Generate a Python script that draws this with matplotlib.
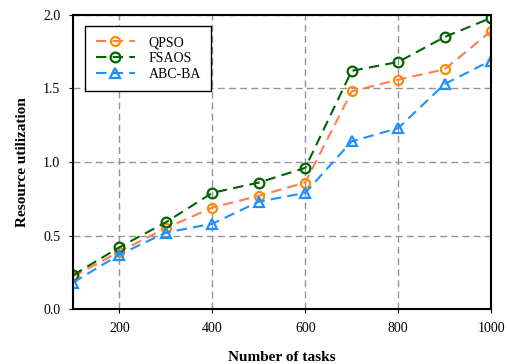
import matplotlib.pyplot as plt
import numpy as np

plt.rcParams['font.family'] = ['Liberation Serif', 'DejaVu Serif']

# Data
tasks = [100, 200, 300, 400, 500, 600, 700, 800, 900, 1000]
qpso = [0.22, 0.39, 0.55, 0.69, 0.77, 0.86, 1.48, 1.56, 1.63, 1.89]
fsaos = [0.23, 0.42, 0.59, 0.79, 0.86, 0.96, 1.62, 1.68, 1.85, 1.98]
abc_ba = [0.18, 0.37, 0.52, 0.58, 0.73, 0.79, 1.14, 1.23, 1.53, 1.69]

fig = plt.figure(figsize=(5.1, 3.64), dpi=100)
ax = fig.add_axes([0.143, 0.151, 0.82, 0.808])

ax.plot(tasks, qpso, color='#FF7F50', linestyle='--', linewidth=1.5, marker='o',
        markersize=6.5, markerfacecolor='none', markeredgecolor='#FF8C00',
        markeredgewidth=1.6, label='QPSO', dashes=(5, 3))
ax.plot(tasks, fsaos, color='#006400', linestyle='--', linewidth=1.5, marker='o',
        markersize=7, markerfacecolor='none', markeredgewidth=1.6,
        label='FSAOS', dashes=(5, 3))
ax.plot(tasks, abc_ba, color='#1E90FF', linestyle='--', linewidth=1.5, marker='^',
        markersize=6.5, markerfacecolor='none', markeredgewidth=1.6,
        label='ABC-BA', dashes=(5, 3))

ax.set_xlim(100, 1000)
ax.set_ylim(0, 2.0)
ax.set_xticks([200, 400, 600, 800, 1000])
ax.set_yticks([0.0, 0.5, 1.0, 1.5, 2.0])
ax.set_yticklabels(['0.0', '0.5', '1.0', '1.5', '2.0'])
ax.tick_params(direction='out', length=3, labelsize=10, pad=6)

ax.grid(True, color='#9c8f9c', linestyle=(0, (5, 3)), linewidth=1.0)
for s in ax.spines.values():
    s.set_linewidth(1.5)

ax.set_xlabel('Number of tasks', fontsize=11, fontweight='bold', labelpad=12)
ax.set_ylabel('Resource utilization', fontsize=11, fontweight='bold', labelpad=10)

leg = ax.legend(loc='upper left', fontsize=10, fancybox=False, edgecolor='black',
                framealpha=1, borderpad=0.75, handlelength=2.8, labelspacing=0.2,
                handletextpad=1.0, bbox_to_anchor=(0.013, 0.987))
leg.get_frame().set_linewidth(1.0)

fig.savefig('out.png', dpi=100)
